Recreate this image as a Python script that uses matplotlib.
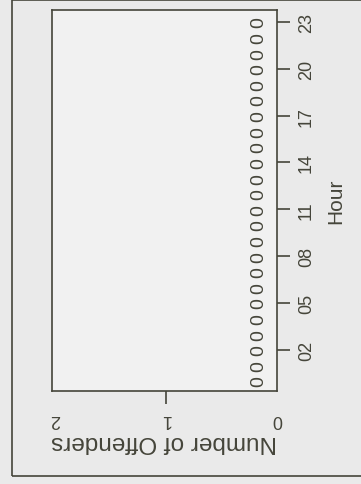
import matplotlib
matplotlib.use("Agg")
import matplotlib.pyplot as plt
from matplotlib.patches import Rectangle

# datos: numero de delincuentes por hora (todas las horas en cero)
horas = [0, 1, 2, 3, 4, 5, 6, 7, 8, 9, 10, 11, 12, 13, 14, 15, 16, 17, 18, 19, 20, 21, 22, 23]
delincuentes = [0, 0, 0, 0, 0, 0, 0, 0, 0, 0, 0, 0, 0, 0, 0, 0, 0, 0, 0, 0, 0, 0, 0, 0]
ticks_hora = [2, 5, 8, 11, 14, 17, 20, 23]
etiquetas_hora = ["02", "05", "08", "11", "14", "17", "20", "23"]
ticks_conteo = [0, 1, 2]
etiquetas_conteo = ["0", "1", "2"]

TINTA = "#45453a"
FONDO = "#eaeaea"

plt.rcParams['font.family'] = ['Liberation Sans', 'DejaVu Sans']

fig = plt.figure(figsize=(3.61, 4.85), dpi=100, facecolor=FONDO)

# marco exterior (izquierda, arriba, abajo)
W, H = 361.0, 485.0
fig.patches.append(Rectangle((12 / W, 1 - 477 / H), 1.0, (476 / H), transform=fig.transFigure,
                             fill=False, edgecolor=TINTA, linewidth=1.2))

# el grafico esta girado 90 grados: horas en vertical, conteo en horizontal
ax = fig.add_axes([52 / W, 1 - 392 / H, 225 / W, 381 / H])
ax.set_facecolor("#f1f1f1")
for s in ax.spines.values():
    s.set_color(TINTA)
    s.set_linewidth(1.2)

ax.set_xlim(2.027, 0)
ax.set_ylim(-0.64, 23.77)

for h, n in zip(horas, delincuentes):
    ax.annotate(str(n), xy=(n, h), xytext=(-13, 0), textcoords="offset points",
                rotation=90, ha="center", va="center", fontsize=14, color=TINTA)

ax.yaxis.tick_right()
ax.set_yticks(ticks_hora)
ax.set_yticklabels(etiquetas_hora, rotation=90, va="center", fontsize=13, color=TINTA)
ax.tick_params(axis="y", direction="out", length=9, width=1.2, color=TINTA, pad=6)
ax.yaxis.set_label_position("right")
ax.set_ylabel("Hour", rotation=90, fontsize=15, color=TINTA, labelpad=8)

ax.set_xticks(ticks_conteo)
ax.set_xticklabels(etiquetas_conteo, rotation=180, fontsize=13, color=TINTA)
ax.tick_params(axis="x", direction="out", length=9, width=1.2, color=TINTA, pad=5)
for i, t in enumerate(ax.xaxis.get_major_ticks()):
    if ticks_conteo[i] != 1:
        t.tick1line.set_visible(False)
ax.set_xlabel("Number of Offenders", rotation=180, fontsize=17.5, color=TINTA, labelpad=2)

fig.savefig("out.png", dpi=100, facecolor=FONDO)
